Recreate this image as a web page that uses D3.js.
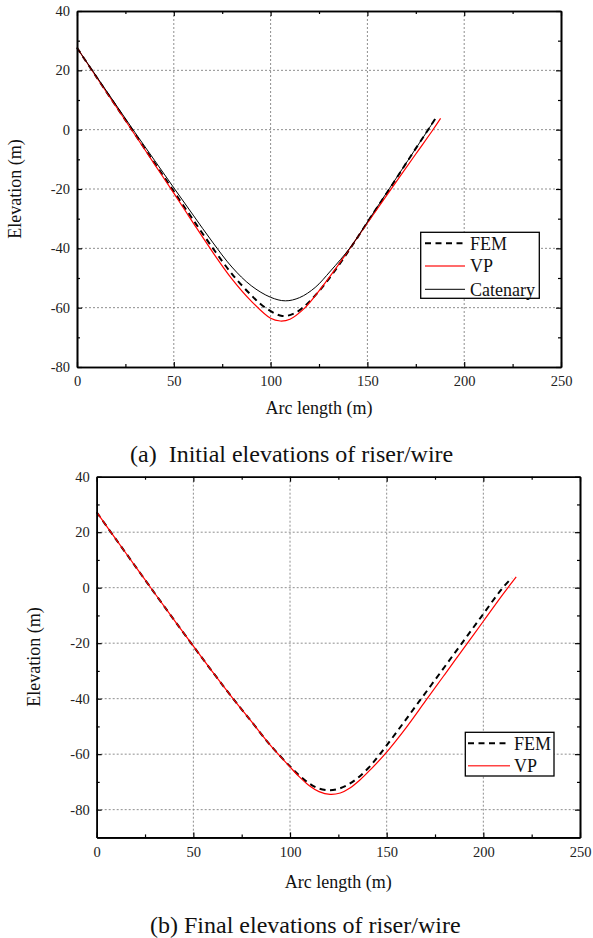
<!DOCTYPE html>
<html><head><meta charset="utf-8">
<script src="https://cdn.jsdelivr.net/npm/d3@7"></script>
<style>
body{margin:0;background:#fff;}
svg{display:block;}
text{font-family:"Liberation Serif","Times New Roman",serif;}
</style>
</head><body>
<svg id="c" width="593" height="938"></svg>
<script>
// ---------------- data ----------------
const xTicks = [0, 50, 100, 150, 200, 250];
const xMinor = [25, 75, 125, 175, 225];
const yTicks = [-80, -60, -40, -20, 0, 20, 40];
const yMinorA = [-70, -50, -30, -10, 10, 30];
const yMinorB = [-70, -50, -30, -10, 10, 30];

// (a) initial elevations
const aCatS = [0, 10, 20, 30, 40, 50, 60, 70, 80, 90, 100, 107.6, 115, 123, 131, 141.4, 151, 161.3, 171, 180.6, 184.9];
const aCatE = [27.6, 18.0, 8.5, -1.0, -10.3, -19.6, -28.8, -37.9, -46.3, -52.6, -56.5, -57.7, -56.6, -53.2, -47.6, -39.5, -30.1, -19.9, -10.3, -0.8, 3.5];
const aFemS = [0, 10, 20, 30, 40, 50, 60, 70, 80, 90, 97, 106, 112, 117, 124, 132, 141.4, 151, 161.3, 171, 180.6, 185];
const aFemE = [27.6, 17.8, 8.1, -1.6, -11.2, -20.8, -30.4, -39.8, -48.6, -55.8, -59.9, -62.8, -62.0, -59.8, -55.2, -48.6, -39.8, -30.2, -20.1, -10.3, -0.8, 3.6];
const aVpS = [0, 10, 20, 30, 40, 50, 60, 70, 80, 90, 100, 105, 110, 117, 124, 132, 141.4, 150, 162.5, 175, 183.7, 187.8];
const aVpE = [27.6, 17.8, 8.0, -1.8, -11.6, -21.4, -31.4, -41.2, -50.3, -57.8, -63.6, -64.5, -63.9, -60.5, -55.2, -48.3, -39.6, -31.4, -19.8, -8.2, -0.2, 3.8];

// (b) final elevations
const bFemS = [0, 10, 20, 30, 40, 50, 60, 70, 80, 90, 100, 105, 110, 115, 120.5, 125, 130, 135, 140.5, 146.5, 157, 167, 178, 188.5, 199, 209.5, 214.7];
const bFemE = [27.2, 17.4, 7.7, -2.0, -11.6, -21.1, -30.4, -39.5, -48.2, -56.9, -64.4, -67.8, -70.6, -72.4, -73.0, -72.5, -71.0, -68.6, -65.0, -60.0, -50.3, -40.8, -30.4, -20.4, -10.4, -0.5, 3.5];
const bVpS = [0, 10, 20, 30, 40, 50, 60, 70, 80, 90, 100, 105, 110, 115, 120.7, 126, 131, 136, 142, 149.1, 160, 170, 180, 190, 200, 210, 217];
const bVpE = [27.2, 17.4, 7.7, -2.0, -11.6, -21.1, -30.4, -39.5, -48.2, -56.9, -64.6, -68.3, -71.4, -73.5, -74.5, -74.0, -72.2, -69.4, -65.3, -60.0, -50.5, -40.9, -31.3, -21.7, -12.1, -2.5, 3.9];

const captionA = "(a)  Initial elevations of riser/wire";
const captionB = "(b) Final elevations of riser/wire";
const xTitle = "Arc length (m)";
const yTitle = "Elevation (m)";

// ---------------- drawing ----------------
const svg = d3.select("#c");
const FONT = '"Liberation Serif","Times New Roman",serif';
const zip = (s, e) => s.map((v, i) => ({s: v, e: e[i]}));

function panel(cfg) {
  const x = d3.scaleLinear().domain([0, 250]).range([cfg.x0, cfg.x1]);
  const y = d3.scaleLinear().domain(cfg.yDom).range([cfg.y1, cfg.y0]);
  const g = svg.append("g");

  // grid
  const grid = g.append("g").attr("stroke", "#8f8f8f").attr("stroke-width", 1).attr("stroke-dasharray", "2,2");
  xTicks.filter(v => v > 0 && v < 250).forEach(v => {
    grid.append("line").attr("x1", x(v)).attr("x2", x(v)).attr("y1", cfg.y0).attr("y2", cfg.y1);
  });
  yTicks.filter(v => v > cfg.yDom[0] && v < cfg.yDom[1]).forEach(v => {
    grid.append("line").attr("x1", cfg.x0).attr("x2", cfg.x1).attr("y1", y(v)).attr("y2", y(v));
  });

  // curves
  const line = d3.line().x(d => x(d.s)).y(d => y(d.e)).curve(d3.curveCatmullRom.alpha(0.5));
  cfg.series.forEach(sr => {
    g.append("path").datum(zip(sr.s, sr.e)).attr("d", line)
      .attr("fill", "none").attr("stroke", sr.color).attr("stroke-width", sr.width)
      .attr("stroke-dasharray", sr.dash || null);
  });

  // axes
  const axStyle = sel => {
    sel.attr("font-family", null);
    sel.selectAll(".domain").attr("stroke", "#000").attr("stroke-width", 1.6);
    sel.selectAll(".tick line").attr("stroke", "#000").attr("stroke-width", 1.2);
    sel.selectAll("text").style("font-family", FONT).style("font-size", "14.5px").attr("fill", "#222");
  };
  g.append("g").attr("transform", `translate(0,${cfg.y1})`)
    .call(d3.axisBottom(x).tickValues(xTicks).tickSizeInner(-5).tickSizeOuter(0).tickPadding(9).tickFormat(d3.format("d"))).call(axStyle);
  g.append("g").attr("transform", `translate(0,${cfg.y1})`)
    .call(d3.axisBottom(x).tickValues(xMinor).tickSizeInner(-3).tickSizeOuter(0).tickFormat("")).call(axStyle);
  g.append("g").attr("transform", `translate(0,${cfg.y0})`)
    .call(d3.axisTop(x).tickValues(xTicks).tickSizeInner(-5).tickSizeOuter(0).tickFormat("")).call(axStyle);
  g.append("g").attr("transform", `translate(0,${cfg.y0})`)
    .call(d3.axisTop(x).tickValues(xMinor).tickSizeInner(-3).tickSizeOuter(0).tickFormat("")).call(axStyle);
  g.append("g").attr("transform", `translate(${cfg.x0},0)`)
    .call(d3.axisLeft(y).tickValues(yTicks).tickSizeInner(-5).tickSizeOuter(0).tickPadding(7).tickFormat(d3.format("d"))).call(axStyle);
  g.append("g").attr("transform", `translate(${cfg.x0},0)`)
    .call(d3.axisLeft(y).tickValues(cfg.yMinor).tickSizeInner(-3).tickSizeOuter(0).tickFormat("")).call(axStyle);
  g.append("g").attr("transform", `translate(${cfg.x1},0)`)
    .call(d3.axisRight(y).tickValues(yTicks).tickSizeInner(-5).tickSizeOuter(0).tickFormat("")).call(axStyle);
  g.append("g").attr("transform", `translate(${cfg.x1},0)`)
    .call(d3.axisRight(y).tickValues(cfg.yMinor).tickSizeInner(-3).tickSizeOuter(0).tickFormat("")).call(axStyle);
  g.selectAll(".tick text").text(function(){ return this.textContent.replace("\u2212", "-"); });

  // titles
  g.append("text").attr("x", (cfg.x0 + cfg.x1) / 2).attr("y", cfg.xTitleY)
    .attr("text-anchor", "middle").style("font-size", "18px").attr("fill", "#111").text(xTitle);
  g.append("text").attr("transform", `translate(${cfg.yTitleX},${(cfg.y0 + cfg.y1) / 2}) rotate(-90)`)
    .attr("text-anchor", "middle").style("font-size", "18px").attr("fill", "#111").text(yTitle);

  // legend
  const L = cfg.legend;
  const lg = g.append("g");
  lg.append("rect").attr("x", L.x).attr("y", L.y).attr("width", L.w).attr("height", L.h)
    .attr("fill", "#fff").attr("stroke", "#000").attr("stroke-width", 1.3);
  cfg.series.forEach((sr, i) => {
    const cy = L.rowY[i];
    lg.append("line").attr("x1", L.lx1).attr("x2", L.lx2).attr("y1", cy).attr("y2", cy)
      .attr("stroke", sr.legColor || sr.color).attr("stroke-width", sr.legWidth || sr.width)
      .attr("stroke-dasharray", sr.dash || null);
    lg.append("text").attr("x", L.tx).attr("y", cy).attr("dy", "0.35em")
      .style("font-size", "18px").attr("fill", "#111").text(sr.name);
  });

  // caption
  svg.append("text").attr("x", cfg.capX).attr("y", cfg.capY).style("font-size", "24px")
    .style("white-space", "pre").attr("xml:space", "preserve")
    .attr("fill", "#111").text(cfg.caption);
}

panel({
  x0: 77, x1: 561, y0: 11, y1: 367, yDom: [-80, 40], yMinor: yMinorA,
  xTitleY: 414, yTitleX: 21,
  series: [
    {name: "FEM", s: aFemS, e: aFemE, color: "#000", width: 2, dash: "6,4.5", legWidth: 2},
    {name: "VP", s: aVpS, e: aVpE, color: "#ff0000", width: 1.2, legColor: "#ff6b6b", legWidth: 2},
    {name: "Catenary", s: aCatS, e: aCatE, color: "#000", width: 1}
  ],
  legend: {x: 420.7, y: 232.3, w: 118.6, h: 66, rowY: [243.3, 266, 289.3], lx1: 425, lx2: 465, tx: 470},
  caption: captionA, capX: 130, capY: 462
});

panel({
  x0: 96.7, x1: 580, y0: 476.7, y1: 837.4, yDom: [-90, 40], yMinor: yMinorB,
  xTitleY: 888, yTitleX: 40,
  series: [
    {name: "FEM", s: bFemS, e: bFemE, color: "#000", width: 2, dash: "6,4.5", legWidth: 2},
    {name: "VP", s: bVpS, e: bVpE, color: "#ff0000", width: 1.2, legColor: "#ff4444", legWidth: 1.5}
  ],
  legend: {x: 465.3, y: 732.3, w: 88.7, h: 43.7, rowY: [743.3, 765.7], lx1: 468, lx2: 510, tx: 514},
  caption: captionB, capX: 150, capY: 933
});
</script>
</body></html>
